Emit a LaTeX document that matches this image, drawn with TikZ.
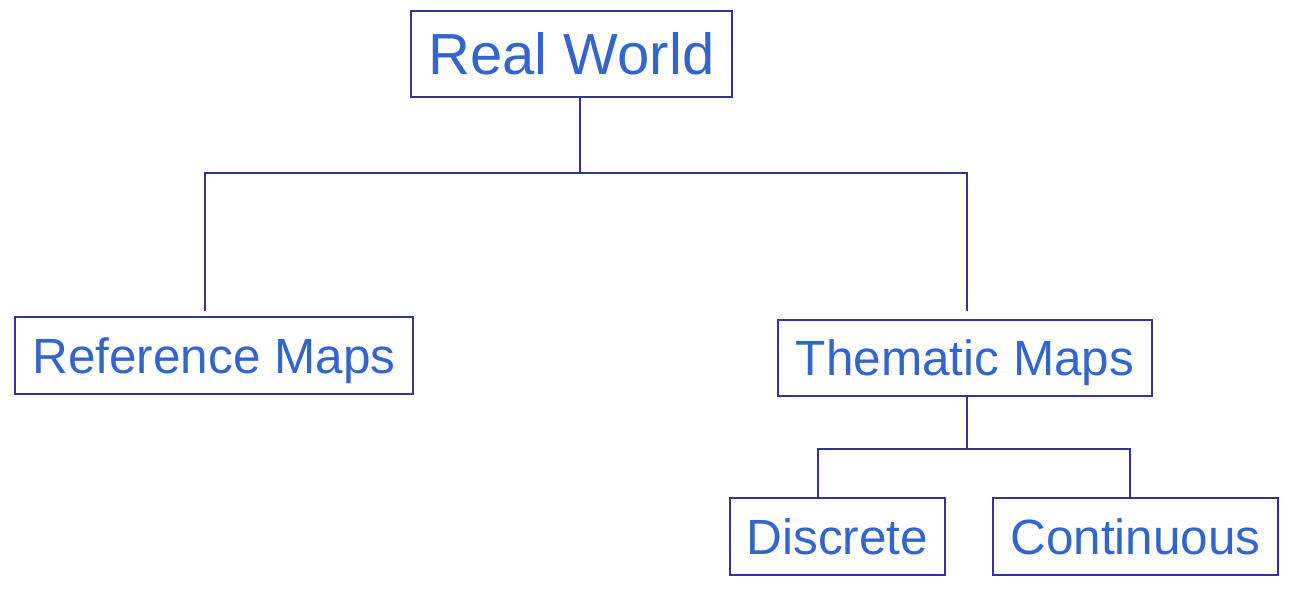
\documentclass[tikz,border=0pt]{standalone}
\usepackage{fontspec}
\setmainfont{Liberation Sans}
\definecolor{linec}{HTML}{333399}
\definecolor{textc}{HTML}{3366CC}
\begin{document}
\begin{tikzpicture}[x=1pt,y=-1pt,
  box/.style={draw=linec, line width=2pt, inner sep=0pt, text=textc,
    text height=35.4pt, text depth=0pt, font=\fontsize{49.5}{55}\selectfont},
  conn/.style={draw=linec, line width=2pt}]
\useasboundingbox (0,0) rectangle (1291,597);
\node[box, minimum width=321pt, minimum height=86pt, font=\fontsize{58}{64}\selectfont, text height=41.5pt] (rw) at (571.5,54) {Real World};
\node[box, minimum width=398pt, minimum height=77pt] (ref) at (214,355.5) {Reference Maps};
\node[box, minimum width=374pt, minimum height=76pt] (them) at (965,358) {Thematic Maps};
\node[box, minimum width=215pt, minimum height=77pt] (disc) at (837.5,536.5) {Discrete};
\node[box, minimum width=285pt, minimum height=77pt] (cont) at (1135.5,536.5) {Continuous};
\coordinate (j1) at (580,173);
\coordinate (jl) at (205,173);
\coordinate (jr) at (967,173);
\coordinate (el) at (205,311);
\coordinate (er) at (967,311);
\coordinate (j2) at (967,449);
\coordinate (kl) at (818,449);
\coordinate (kr) at (1130,449);
\draw[conn] (rw.south -| j1) -- (j1);
\draw[conn] (el) -- (jl) -- (jr) -- (er);
\draw[conn] (them.south -| j2) -- (j2);
\draw[conn] (disc.north -| kl) -- (kl) -- (kr) -- (cont.north -| kr);
\end{tikzpicture}
\end{document}
